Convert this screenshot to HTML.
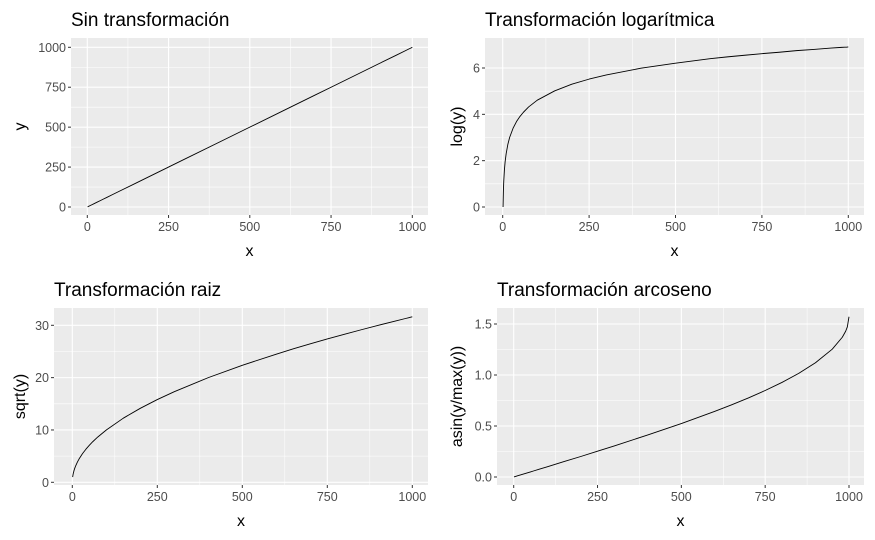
<!DOCTYPE html>
<html><head><meta charset="utf-8">
<style>
body{margin:0;background:#fff;}
svg{display:block;font-family:"Liberation Sans",Arial,sans-serif;}
</style></head>
<body>
<svg id="chart" width="875" height="540" viewBox="0 0 875 540" xmlns="http://www.w3.org/2000/svg"></svg>
<script>
// shared x values (sampled)
const xValues = [1,2,3,5,7,10,15,20,30,40,50,60,75,100,150,200,250,300,400,500,600,650,700,750,800,850,900,950,980,990,995,1000];
// series
const identityValues = [1,2,3,5,7,10,15,20,30,40,50,60,75,100,150,200,250,300,400,500,600,650,700,750,800,850,900,950,980,990,995,1000];
const logValues = [0,0.69,1.10,1.61,1.95,2.30,2.71,3.00,3.40,3.69,3.91,4.09,4.32,4.61,5.01,5.30,5.52,5.70,5.99,6.21,6.40,6.48,6.55,6.62,6.68,6.75,6.80,6.86,6.89,6.90,6.90,6.91];
const sqrtValues = [1,1.41,1.73,2.24,2.65,3.16,3.87,4.47,5.48,6.32,7.07,7.75,8.66,10,12.25,14.14,15.81,17.32,20,22.36,24.49,25.50,26.46,27.39,28.28,29.15,30,30.82,31.30,31.46,31.54,31.62];
const asinValues = [0.001,0.002,0.003,0.005,0.007,0.01,0.015,0.02,0.03,0.04,0.05,0.06,0.075,0.1,0.151,0.201,0.253,0.305,0.412,0.524,0.644,0.708,0.775,0.848,0.927,1.016,1.120,1.253,1.370,1.429,1.471,1.571];
// tick labels
const xTicks = [0,250,500,750,1000];
const yTicksIdentity = [0,250,500,750,1000];
const yTicksLog = [0,2,4,6];
const yTicksSqrt = [0,10,20,30];
const yTicksAsin = [0,0.5,1.0,1.5];

const NS = "http://www.w3.org/2000/svg";
const svg = document.getElementById('chart');
function mk(tag, attrs, parent){
  const e = document.createElementNS(NS, tag);
  for (const k in attrs) e.setAttribute(k, attrs[k]);
  (parent||svg).appendChild(e);
  return e;
}

function drawPanel(cfg){
  const g = mk('g', {});
  
  
  const sx = v => cfg.px0 + (v - 0) / 1000 * (cfg.px1 - cfg.px0);
  const sy = v => cfg.py0 + (v - cfg.v0) / (cfg.v1 - cfg.v0) * (cfg.py1 - cfg.py0);

  const bg = mk('rect', {x:cfg.left, y:cfg.top, width:cfg.right-cfg.left, height:cfg.bottom-cfg.top, fill:'#ebebeb'}, g);
  
  

  for (let i = 0; i < xTicks.length - 1; i++){
    const m = (xTicks[i] + xTicks[i+1]) / 2;
    const l = mk('line', {x1:sx(m), x2:sx(m), y1:cfg.top, y2:cfg.bottom, stroke:'#fff', 'stroke-width':0.55}, g);
    
    
  }
  for (let i = 0; i < cfg.yTicks.length - 1; i++){
    const m = (cfg.yTicks[i] + cfg.yTicks[i+1]) / 2;
    const l = mk('line', {x1:cfg.left, x2:cfg.right, y1:sy(m), y2:sy(m), stroke:'#fff', 'stroke-width':0.55}, g);
    
    
  }
  xTicks.forEach(t => {
    const l = mk('line', {x1:sx(t), x2:sx(t), y1:cfg.top, y2:cfg.bottom, stroke:'#fff', 'stroke-width':1.1}, g);
    
    
    const tk = mk('line', {x1:sx(t), x2:sx(t), y1:cfg.bottom, y2:cfg.bottom+3, stroke:'#333', 'stroke-width':1}, g);
    
    
    const tx = mk('text', {x:sx(t), y:cfg.bottom+16, 'text-anchor':'middle', 'font-size':12.5, fill:'#4d4d4d'}, g);
    
    
    tx.textContent = t;
  });
  cfg.yTicks.forEach(t => {
    const l = mk('line', {x1:cfg.left, x2:cfg.right, y1:sy(t), y2:sy(t), stroke:'#fff', 'stroke-width':1.1}, g);
    
    
    const tk = mk('line', {x1:cfg.left-3, x2:cfg.left, y1:sy(t), y2:sy(t), stroke:'#333', 'stroke-width':1}, g);
    
    
    const tx = mk('text', {x:cfg.left-5, y:sy(t)+4.5, 'text-anchor':'end', 'font-size':12.5, fill:'#4d4d4d'}, g);
    
    
    tx.textContent = cfg.fmt ? t.toFixed(1) : t;
  });
  const d = xValues.map((x,i) => (i ? 'L' : 'M') + sx(x).toFixed(2) + ' ' + sy(cfg.values[i]).toFixed(2)).join(' ');
  const p = mk('path', {d:d, fill:'none', stroke:'#000', 'stroke-width':0.9, 'stroke-linejoin':'round'}, g);
  
  
  const tt = mk('text', {x:cfg.left, y:cfg.top-12, 'font-size':19, fill:'#000'}, g);
  
  
  tt.textContent = cfg.title;
  const xt = mk('text', {x:(cfg.left+cfg.right)/2, y:cfg.bottom+41, 'text-anchor':'middle', 'font-size':16, fill:'#000'}, g);
  
  
  xt.textContent = 'x';
  const cy = (cfg.top+cfg.bottom)/2;
  const yt = mk('text', {x:cfg.yTitleX, y:cy, 'text-anchor':'middle', 'font-size':16, fill:'#000', transform:'rotate(-90 '+cfg.yTitleX+' '+cy+')'}, g);
  
  
  yt.textContent = cfg.yTitle;
}

drawPanel({name:'panel-identity', title:'Sin transformación', yTitle:'y', yTitleX:25,
  left:71, right:428, top:38, bottom:215, px0:87.3, px1:412.3, v0:0, v1:1000, py0:207, py1:47.3,
  yTicks:yTicksIdentity, values:identityValues});
drawPanel({name:'panel-log', title:'Transformación logarítmica', yTitle:'log(y)', yTitleX:462,
  left:485, right:864, top:38, bottom:215, px0:502.7, px1:848.3, v0:0, v1:6, py0:207, py1:68,
  yTicks:yTicksLog, values:logValues});
drawPanel({name:'panel-sqrt', title:'Transformación raiz', yTitle:'sqrt(y)', yTitleX:25,
  left:54, right:428, top:308, bottom:485, px0:72.3, px1:412.3, v0:0, v1:30, py0:482.3, py1:325.3,
  yTicks:yTicksSqrt, values:sqrtValues});
drawPanel({name:'panel-asin', title:'Transformación arcoseno', yTitle:'asin(y/max(y))', yTitleX:462,
  left:497, right:864, top:308, bottom:485, px0:513.7, px1:849, v0:0, v1:1.5, py0:477, py1:324,
  yTicks:yTicksAsin, values:asinValues, fmt:true});
</script>
</body></html>
